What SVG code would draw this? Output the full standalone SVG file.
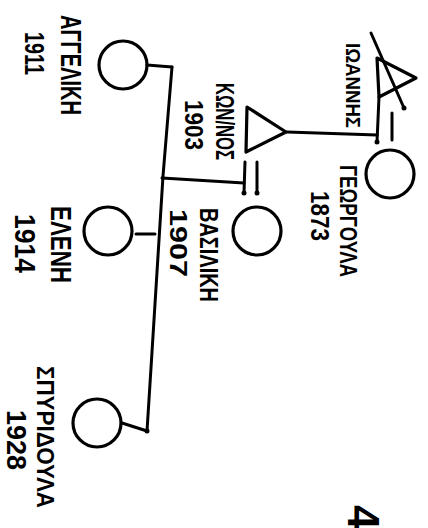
<svg xmlns="http://www.w3.org/2000/svg" width="428" height="528" viewBox="0 0 428 528">
<style>
.ln{fill:none;stroke:#000;stroke-width:3;stroke-linecap:round;stroke-linejoin:round}
.sh{fill:none;stroke:#000;stroke-width:3.2;stroke-linejoin:round}
.t{font-family:"Liberation Sans","DejaVu Sans",sans-serif;font-weight:bold;fill:#000}
.dot{fill:#000}
</style>
<rect width="428" height="528" fill="#fff"/>
<g id="connectors">
<path class="ln" d="M379,97 L377,142"/>
<path class="ln" d="M392,113 L392,140"/>
<path class="ln" d="M287,132 L377,135"/>
<path class="ln" d="M245,162 L244,193"/>
<path class="ln" d="M257,162 L257,193"/>
<path class="ln" d="M162,178 L244,183"/>
<path class="ln" d="M172,67 L163,176 L152,352 L147,431"/>
<path class="ln" d="M147,65 L172,67"/>
<path class="ln" d="M136,234 L155,234"/>
<path class="ln" d="M122,423 L147,431"/>
<circle class="dot" cx="377" cy="142" r="2.5"/>
<circle class="dot" cx="244" cy="193" r="2.5"/>
<circle class="dot" cx="257" cy="193" r="2.5"/>
<circle class="dot" cx="147" cy="431" r="2.5"/>
</g>
<g id="ioannis">
<path class="sh" d="M377,58 L416,78 L379,97 Z"/>
<path class="ln" d="M371,33 L404,108"/>
<circle class="dot" cx="404" cy="108" r="2.5"/>
<text class="t" font-size="21" transform="translate(346,43) rotate(90)" textLength="85" lengthAdjust="spacingAndGlyphs">ΙΩΑΝΝΗΣ</text>
</g>
<g id="georgoula">
<circle class="sh" cx="390" cy="174" r="24"/>
<text class="t" font-size="24" transform="translate(340,165) rotate(90)" textLength="112" lengthAdjust="spacingAndGlyphs">ΓΕΩΡΓΟΥΛΑ</text>
<text class="t" font-size="25" transform="translate(311,191) rotate(90)" textLength="50" lengthAdjust="spacingAndGlyphs">1873</text>
</g>
<g id="konstantinos">
<path class="sh" d="M247,107 L286,132 L246,152 Z"/>
<text class="t" font-size="25" transform="translate(216,83) rotate(90)" textLength="77" lengthAdjust="spacingAndGlyphs">ΚΩΝ/ΝΟΣ</text>
<text class="t" font-size="25" transform="translate(185,100) rotate(90)" textLength="50" lengthAdjust="spacingAndGlyphs">1903</text>
</g>
<g id="vasiliki">
<circle class="sh" cx="257" cy="231" r="24"/>
<text class="t" font-size="26" transform="translate(200,208) rotate(90)" textLength="94" lengthAdjust="spacingAndGlyphs">ΒΑΣΙΛΙΚΗ</text>
<text class="t" font-size="24" transform="translate(170,209) rotate(90)" textLength="68" lengthAdjust="spacingAndGlyphs">1907</text>
</g>
<g id="angeliki">
<circle class="sh" cx="123" cy="65" r="24"/>
<text class="t" font-size="30" transform="translate(61,15) rotate(90)" textLength="100" lengthAdjust="spacingAndGlyphs">ΑΓΓΕΛΙΚΗ</text>
<text class="t" font-size="28" transform="translate(25,32) rotate(90)" textLength="43" lengthAdjust="spacingAndGlyphs">1911</text>
</g>
<g id="eleni">
<circle class="sh" cx="108" cy="231" r="24"/>
<text class="t" font-size="29" transform="translate(51,206) rotate(90)" textLength="77" lengthAdjust="spacingAndGlyphs">ΕΛΕΝΗ</text>
<text class="t" font-size="29" transform="translate(15,214) rotate(90)" textLength="59" lengthAdjust="spacingAndGlyphs">1914</text>
</g>
<g id="spyridoula">
<circle class="sh" cx="97" cy="423" r="24"/>
<text class="t" font-size="24" transform="translate(37,366) rotate(90)" textLength="142" lengthAdjust="spacingAndGlyphs">ΣΠΥΡΙΔΟΥΛΑ</text>
<text class="t" font-size="28" transform="translate(7,410) rotate(90)" textLength="60" lengthAdjust="spacingAndGlyphs">1928</text>
</g>
<g id="page-number">
<text class="t" font-size="44" transform="translate(348,505) rotate(90)">4</text>
</g>
</svg>
